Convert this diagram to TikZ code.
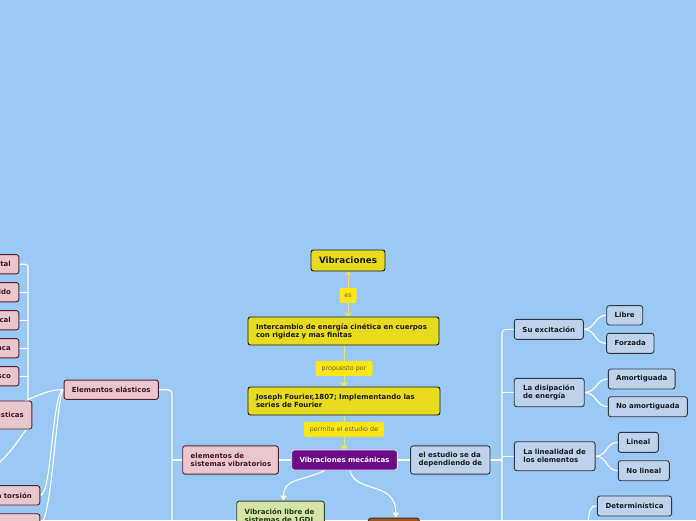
\documentclass[tikz,border=0pt]{standalone}
\usepackage{fontspec}
\setmainfont{DejaVu Sans}
\usetikzlibrary{arrows.meta,backgrounds}
\pgfdeclarelayer{bgl}
\pgfdeclarelayer{edges}
\pgfsetlayers{bgl,edges,main}
\definecolor{bgc}{RGB}{155,201,245}
\definecolor{yfill}{RGB}{232,219,30}
\definecolor{lfill}{RGB}{255,230,20}
\definecolor{ltext}{RGB}{100,95,60}
\definecolor{yline}{RGB}{240,226,100}
\definecolor{pfill}{RGB}{233,200,205}
\definecolor{pdraw}{RGB}{92,26,46}
\definecolor{ptext}{RGB}{74,15,34}
\definecolor{bfill}{RGB}{190,211,235}
\definecolor{bdraw}{RGB}{47,53,64}
\definecolor{vfill}{RGB}{108,12,134}
\definecolor{gfill}{RGB}{214,227,169}
\definecolor{gdraw}{RGB}{47,74,28}
\definecolor{gtext}{RGB}{30,58,16}
\definecolor{brfill}{RGB}{164,84,28}
\definecolor{brdraw}{RGB}{74,42,16}
\definecolor{dk}{RGB}{25,25,25}
\newcommand\nodefnt{\fontsize{7}{8}\selectfont\bfseries}
\newcommand\lblfnt{\fontsize{6.4}{7.5}\selectfont}
\begin{document}
\begin{tikzpicture}[x=1pt,y=-1pt,
 base/.style={rounded corners=2.5pt, line width=0.9pt, inner sep=0pt, font=\nodefnt},
 ybox/.style={base, fill=yfill, draw=dk, text=dk},
 pbox/.style={base, fill=pfill, draw=pdraw, text=ptext},
 bbox/.style={base, fill=bfill, draw=bdraw, text=dk},
 gbox/.style={base, fill=gfill, draw=gdraw, text=gtext},
 vbox/.style={base, fill=vfill, draw=white!85!vfill, text=white},
 brbox/.style={base, fill=brfill, draw=brdraw},
 one/.style 2 args={minimum width=#1, minimum height=#2, align=center},
 multi/.style 2 args={text width=#1, minimum height=#2, inner xsep=8pt, align=left},
 lbl/.style={fill=lfill, text=ltext, font=\lblfnt, rounded corners=1.5pt, inner sep=0pt},
 wline/.style={draw=white, line width=1.1pt},
 yarrow/.style={draw=yline, line width=1pt},
 cut/.style={pbox, text width=60pt, inner xsep=8pt, align=right, anchor=east},
]
\useasboundingbox (0,0) rectangle (696,520);
\begin{pgfonlayer}{bgl}
\fill[bgc] (0,0) rectangle (696,520);
\end{pgfonlayer}
\clip (0,0) rectangle (696,520);

% centre column
\node[ybox, one={74pt}{21pt}, font=\fontsize{8.8}{10}\selectfont\bfseries] (vib) at (348,260.5) {Vibraciones};
\node[ybox, multi={175pt}{28pt}] (inter) at (343.5,331) {\mbox{Intercambio de energía cinética en cuerpos}\\\mbox{con rigidez y mas finitas}};
\node[ybox, multi={176pt}{28pt}] (jos) at (344,401) {\mbox{Joseph Fourier,1807; Implementando las}\\\mbox{series de Fourier}};
\node[vbox, one={105.6pt}{20pt}] (mec) at (344.5,460) {Vibraciones mecánicas};
\node[pbox, multi={79.6pt}{28.3pt}] (esv) at (230.5,460) {\mbox{elementos de}\\\mbox{sistemas vibratorios}};
\node[bbox, multi={63.3pt}{28.3pt}] (est) at (450.3,460) {\mbox{el estudio se da}\\\mbox{dependiendo de}};
\node[gbox, multi={71.6pt}{30pt}, anchor=north] (vl) at (280.5,500.7) {\mbox{Vibración libre de}\\\mbox{sistemas de 1GDL}};
\node[brbox, one={51pt}{20pt}, anchor=north] (br) at (393.8,517.7) {};

% left side
\node[pbox, one={94.3pt}{19.3pt}] (ee) at (111.2,389.7) {Elementos elásticos};
\node[cut, minimum height=19.3pt] (l1) at (19.3,264.2) {tal};
\node[cut, minimum height=19.3pt] (l2) at (19.3,292.2) {ldo};
\node[cut, minimum height=19.3pt] (l3) at (19.3,320.2) {cal};
\node[cut, minimum height=19.3pt] (l4) at (19.3,348.2) {nca};
\node[cut, minimum height=19.3pt] (l5) at (19.3,376.2) {sco};
\node[cut, minimum height=28pt] (ast) at (32.3,415) {ásticas};
\node[cut, minimum height=19.3pt] (tor) at (40.3,495.3) {a torsión};
\node[cut, minimum height=20pt, anchor=north east] (lb) at (40.3,513.3) {};

% right side
\node[bbox, one={69pt}{20pt}] (su) at (548.8,329.3) {Su excitación};
\node[bbox, one={36pt}{19.3pt}] (lib) at (624.7,315.3) {Libre};
\node[bbox, one={47.3pt}{20pt}] (forz) at (630.3,343.3) {Forzada};
\node[bbox, multi={52pt}{28.4pt}, inner xsep=9pt] (dis) at (549.2,392.5) {\mbox{La disipación}\\\mbox{de energía}};
\node[bbox, one={66.7pt}{20pt}] (am) at (641.7,379) {Amortiguada};
\node[bbox, one={79pt}{20pt}] (nam) at (647.8,406.7) {No amortiguada};
\node[bbox, multi={62.7pt}{29pt}, inner xsep=9pt] (lin) at (554.7,456.2) {\mbox{La linealidad de}\\\mbox{los elementos}};
\node[bbox, one={40pt}{20pt}] (li) at (638.3,442.3) {Lineal};
\node[bbox, one={51pt}{20pt}] (nli) at (643.8,470.7) {No lineal};
\node[bbox, one={74.3pt}{20pt}] (det) at (634.5,506) {Determinística};

\coordinate (tp) at (28,401);
\coordinate (ebot) at (172,525);
\coordinate (rbot) at (502,525);
\coordinate (aoff) at (-5,466);
\coordinate (dbot) at (588,525);

\begin{pgfonlayer}{edges}
\draw[yarrow, {Straight Barb[length=3pt,width=6pt]}-{Straight Barb[length=3pt,width=6pt]}]
  (vib.south) -- node[lbl, minimum width=17pt, minimum height=15pt, pos=0.53]{es} (vib.south |- inter.north);
\draw[yarrow, -{Triangle[length=4pt,width=8pt]}]
  (jos.north |- inter.south) -- node[lbl, minimum width=57pt, minimum height=15pt, pos=0.56]{propuesto por} (jos.north);
\draw[yarrow, -{Triangle[length=4pt,width=8pt]}]
  (jos.south) -- node[lbl, minimum width=80pt, minimum height=15pt, pos=0.41]{permite el estudio de} (jos.south |- mec.north);

\draw[wline] (mec.west) -- (esv.east);
\draw[wline] (mec.east) -- (est.west);
\draw[wline, -{Triangle[length=5pt,width=6pt]}] ([xshift=-19.5pt]mec.south) .. controls (300,482) and (284,478) .. ([xshift=3pt]vl.north);
\draw[wline, -{Triangle[length=5pt,width=6pt]}] ([xshift=5.5pt]mec.south) .. controls (355,494) and (396,480) .. ([xshift=2pt]br.north);

\draw[wline, rounded corners=4pt] (ee.east) -| (ebot);
\draw[wline] (esv.west) -- (esv.west -| ebot);
\draw[wline, rounded corners=3pt] (l1.east) -| (tp);
\foreach \n in {l2,l3,l4,l5} \draw[wline] (\n.east) -- (\n.east -| tp);
\draw[wline] (ee.west) .. controls (45,389.7) and (38,396) .. (ast.center);
\draw[wline] (ee.west) .. controls (52,389.7) and (52,495.3) .. (tor.east);
\draw[wline] (ee.west) .. controls (57,389.7) and (52,523) .. (lb.east);
\draw[wline] ([xshift=-6pt]ast.south east) .. controls (15,445) and (8,456) .. (aoff);

\draw[wline] (est.east) -- (est.east -| rbot);
\draw[wline, rounded corners=4pt] (su.west) -| (rbot);
\draw[wline] (dis.west) -- (dis.west -| rbot);
\draw[wline] (lin.west) -- (lin.west -| rbot);
\foreach \p/\c in {su/lib,su/forz,dis/am,dis/nam,lin/li,lin/nli}
  \draw[wline] (\p.east) .. controls +(12,0) and +(-12,0) .. (\c.west);
\draw[wline] (dbot) .. controls (589,510) and (590,506) .. (det.west);
\end{pgfonlayer}
\end{tikzpicture}
\end{document}
